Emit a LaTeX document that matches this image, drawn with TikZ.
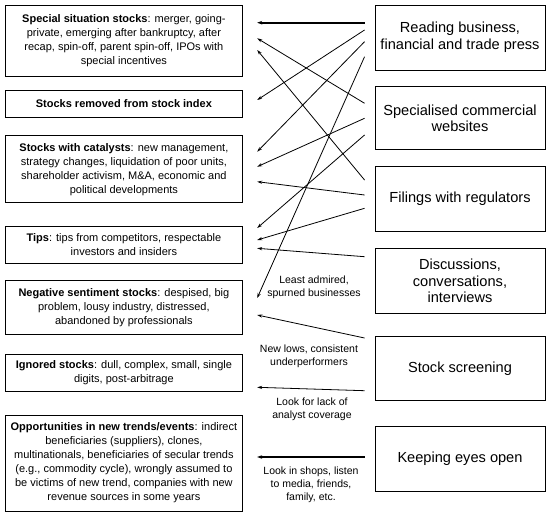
\documentclass[tikz,border=0pt]{standalone}
\usepackage{fontspec}
\setmainfont{Liberation Sans}
\usetikzlibrary{calc,arrows.meta}
\tikzset{
  lbox/.style={draw,line width=0.9pt,minimum width=236.3pt,align=center,inner sep=0pt,font=\fontsize{11}{14}\selectfont},
  rbox/.style={draw,line width=0.9pt,minimum width=170pt,align=center,inner sep=0pt,font=\fontsize{14.6}{16.9}\selectfont},
  arr/.style={line width=0.8pt,-{Stealth[length=5pt,width=3.2pt]}},
  tarr/.style={line width=1.7pt,-{Stealth[length=5pt,width=3.6pt]}},
  lab/.style={align=center,inner sep=0pt,font=\fontsize{10.5}{13}\selectfont}
}
\begin{document}
\begin{tikzpicture}[x=1pt,y=-1pt]
\useasboundingbox (0,0) rectangle (556,521);
% left boxes
\node[lbox,minimum height=70.3pt] (l1) at (123.9,40.9) {\textbf{Special situation stocks}: merger, going-\\private, emerging after bankruptcy, after\\recap, spin-off, parent spin-off, IPOs with\\special incentives};
\node[lbox,minimum height=26.6pt] (l2) at (123.9,104) {\textbf{Stocks removed from stock index}};
\node[lbox,minimum height=67pt] (l3) at (123.9,169.2) {\textbf{Stocks with catalysts}: new management,\\strategy changes, liquidation of poor units,\\shareholder activism, M\&A, economic and\\political developments};
\node[lbox,minimum height=36.6pt] (l4) at (123.9,245) {\textbf{Tips}: tips from competitors, respectable\\investors and insiders};
\node[lbox,minimum height=53.6pt] (l5) at (123.9,307.5) {\textbf{Negative sentiment stocks}: despised, big\\problem, lousy industry, distressed,\\abandoned by professionals};
\node[lbox,minimum height=36.7pt] (l6) at (123.9,372.7) {\textbf{Ignored stocks}: dull, complex, small, single\\digits, post-arbitrage};
\node[lbox,minimum height=96pt] (l7) at (123.9,463) {\textbf{Opportunities in new trends/events}: indirect\\beneficiaries (suppliers), clones,\\multinationals, beneficiaries of secular trends\\(e.g., commodity cycle), wrongly assumed to\\be victims of new trend, companies with new\\revenue sources in some years};
% right boxes
\node[rbox,minimum height=65pt] (r1) at (460,37.5) {Reading business,\\financial and trade press};
\node[rbox,minimum height=63.3pt] (r2) at (460,118.3) {Specialised commercial\\websites};
\node[rbox,minimum height=65pt] (r3) at (460,199.2) {Filings with regulators};
\node[rbox,minimum height=65pt] (r4) at (460,280.8) {Discussions,\\conversations,\\interviews};
\node[rbox,minimum height=63.3pt] (r5) at (460,368.3) {Stock screening};
\node[rbox,minimum height=65pt] (r6) at (460,459.2) {Keeping eyes open};
% arrows
\draw[tarr] ($(r1.west)+(-10,-14.8)$) -- ($(l1.east)+(14.7,-18.2)$);
\draw[arr] ($(r1.west)+(-10,-7.5)$) -- ($(l2.east)+(14.7,-4)$);
\draw[arr] ($(r1.west)+(-10,4.2)$) -- ($(l3.east)+(14.7,-17.5)$);
\draw[arr] ($(r1.west)+(-10,19.2)$) -- ($(l5.east)+(14.7,-9.5)$);
\draw[arr] ($(r2.west)+(-10,-15)$) -- ($(l1.east)+(14.7,-2.6)$);
\draw[arr] ($(r2.west)+(-10,0)$) -- ($(l3.east)+(14.7,-2.5)$);
\draw[arr] ($(r2.west)+(-10,16.7)$) -- ($(l4.east)+(14.7,-17)$);
\draw[arr] ($(r3.west)+(-10,-19.2)$) -- ($(l1.east)+(14.7,9.1)$);
\draw[arr] ($(r3.west)+(-10,-4.2)$) -- ($(l3.east)+(14.7,12.5)$);
\draw[arr] ($(r3.west)+(-10,9.1)$) -- ($(l4.east)+(14.7,-5)$);
\draw[arr] ($(r4.west)+(-10,-24.1)$) -- ($(l4.east)+(14.7,3.3)$);
\draw[arr] ($(r5.west)+(-10,-30.3)$) -- ($(l5.east)+(14.7,7.5)$);
\draw[arr] ($(r5.west)+(-10,22.4)$) -- ($(l6.east)+(14.7,14.6)$);
\draw[tarr] ($(r6.west)+(-10,-2.2)$) -- ($(l7.east)+(14.7,-6)$);
% labels
\node[lab] (t1) at (314,287.5) {Least admired,\\spurned businesses};
\node[lab] (t2) at (309,356.5) {New lows, consistent\\underperformers};
\node[lab] (t3) at (312,409.5) {Look for lack of\\analyst coverage};
\node[lab] (t4) at (311,485) {Look in shops, listen\\to media, friends,\\family, etc.};
\end{tikzpicture}
\end{document}
